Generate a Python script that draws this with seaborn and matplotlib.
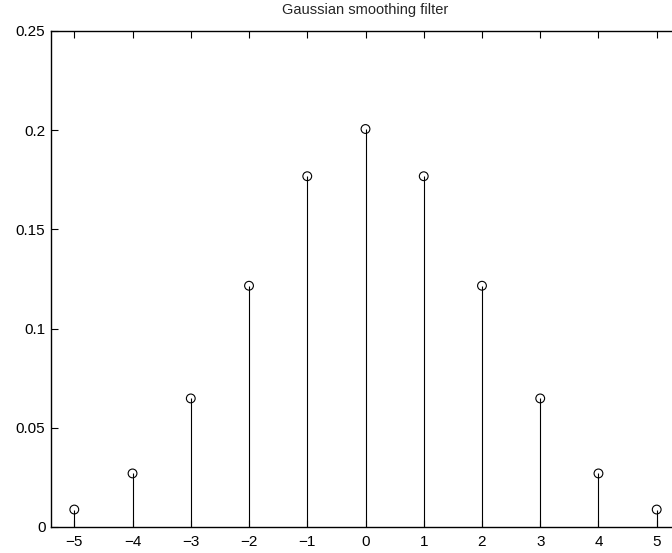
import matplotlib
matplotlib.use("Agg")
import matplotlib.pyplot as plt
import seaborn as sns
import pandas as pd

x_vals = [-5, -4, -3, -2, -1, 0, 1, 2, 3, 4, 5]
y_vals = [0.0088, 0.027, 0.0648, 0.1216, 0.1768, 0.2006, 0.1768, 0.1216, 0.0648, 0.027, 0.0088]
y_ticks = [0, 0.05, 0.1, 0.15, 0.2, 0.25]
y_tick_labels = ["0", "0.05", "0.1", "0.15", "0.2", "0.25"]
title = "Gaussian smoothing filter"

sns.set_style("ticks")
plt.rcParams['font.family'] = ['Liberation Sans', 'DejaVu Sans']
plt.rcParams['axes.unicode_minus'] = True

df = pd.DataFrame({"x": x_vals, "y": y_vals})

fig = plt.figure(figsize=(6.72, 5.53), dpi=100)
ax = fig.add_axes([51/672, 1 - 527/553, (680 - 51)/672, (527 - 31)/553])

ax.vlines(df["x"], 0, df["y"], colors="black", linewidth=0.8)
sns.scatterplot(data=df, x="x", y="y", ax=ax, marker="o", s=40,
                facecolors="none", edgecolor="black", linewidth=0.8, zorder=3)

ax.set_xlim(-5.4, 5.4)
ax.set_ylim(0, 0.25)
ax.set_xticks(x_vals)
ax.set_yticks(y_ticks)
ax.set_yticklabels(y_tick_labels)
ax.set_xlabel("")
ax.set_ylabel("")
ax.set_title(title, fontsize=10.5, pad=12)
ax.tick_params(direction="in", length=5, width=0.8, top=True, right=True,
               labelsize=11, colors="black")
ax.tick_params(axis="x", pad=6)
ax.tick_params(axis="y", pad=4)
for sp in ax.spines.values():
    sp.set_visible(True)
    sp.set_linewidth(1.0)
    sp.set_color("black")

fig.savefig("out.png", dpi=100)
